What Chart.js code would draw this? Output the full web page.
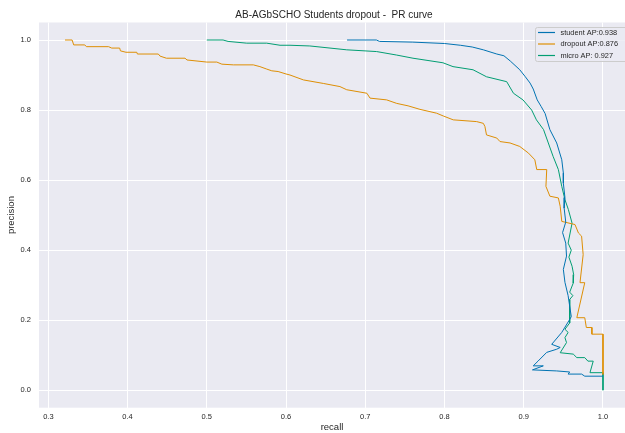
<!DOCTYPE html>
<html>
<head>
<meta charset="utf-8">
<script src="https://cdn.jsdelivr.net/npm/chart.js@4"></script>
<style>
  html, body { margin: 0; padding: 0; background: #ffffff; overflow: hidden; }
  #wrap { width: 625px; height: 433px; }
</style>
</head>
<body>
<div id="wrap"><canvas id="prChart" width="625" height="433"></canvas></div>
<script>
// values
const xTicks = [0.3, 0.4, 0.5, 0.6, 0.7, 0.8, 0.9, 1.0];
const yTicks = [0.0, 0.2, 0.4, 0.6, 0.8, 1.0];
const seriesLabels = ['student AP:0.938', 'dropout AP:0.876', 'micro AP: 0.927'];
const seriesColors = ['#0173b2', '#de8f05', '#029e73'];

const studentRecall = [0.677, 0.714, 0.718, 0.76, 0.80, 0.82, 0.835, 0.849, 0.866, 0.875, 0.883, 0.895, 0.902, 0.908, 0.912, 0.917, 0.922, 0.927, 0.933, 0.9416, 0.948, 0.950, 0.950, 0.952, 0.951, 0.953, 0.949, 0.953, 0.954, 0.950, 0.952, 0.956, 0.958, 0.960, 0.958, 0.948, 0.9353, 0.946, 0.9416, 0.929, 0.918, 0.912, 0.9247, 0.911, 0.9416, 0.958, 0.956, 0.973, 0.977, 1.0];
const studentPrecision = [1.0, 1.0, 0.996, 0.994, 0.99, 0.985, 0.98, 0.972, 0.96, 0.955, 0.94, 0.915, 0.895, 0.877, 0.86, 0.829, 0.81, 0.79, 0.744, 0.706, 0.658, 0.62, 0.591, 0.55, 0.52, 0.48, 0.45, 0.42, 0.383, 0.345, 0.308, 0.27, 0.24, 0.21, 0.202, 0.165, 0.131, 0.122, 0.117, 0.108, 0.083, 0.0695, 0.0695, 0.058, 0.055, 0.052, 0.046, 0.046, 0.04, 0.04];

const dropoutRecall = [0.321, 0.330, 0.332, 0.346, 0.348, 0.376, 0.380, 0.390, 0.391, 0.398, 0.4116, 0.4124, 0.4388, 0.441, 0.449, 0.4725, 0.475, 0.5, 0.5126, 0.519, 0.5335, 0.5587, 0.567, 0.5756, 0.582, 0.590, 0.6, 0.605, 0.622, 0.647, 0.668, 0.6766, 0.702, 0.706, 0.727, 0.7397, 0.754, 0.769, 0.790, 0.7985, 0.811, 0.8406, 0.849, 0.851, 0.853, 0.866, 0.87, 0.8827, 0.895, 0.906, 0.914, 0.9164, 0.929, 0.928, 0.933, 0.9437, 0.946, 0.948, 0.9647, 0.969, 0.973, 0.975, 0.971, 0.977, 0.967, 0.977, 0.979, 0.986, 0.986, 1.0, 1.0];
const dropoutPrecision = [1.0, 1.0, 0.986, 0.986, 0.981, 0.981, 0.977, 0.977, 0.969, 0.965, 0.965, 0.96, 0.96, 0.954, 0.948, 0.948, 0.943, 0.937, 0.937, 0.931, 0.929, 0.929, 0.924, 0.917, 0.912, 0.91, 0.903, 0.9, 0.886, 0.876, 0.867, 0.858, 0.848, 0.834, 0.829, 0.819, 0.812, 0.802, 0.791, 0.783, 0.772, 0.767, 0.762, 0.753, 0.729, 0.72, 0.71, 0.706, 0.696, 0.677, 0.658, 0.63, 0.63, 0.582, 0.554, 0.549, 0.525, 0.482, 0.473, 0.449, 0.44, 0.387, 0.307, 0.307, 0.207, 0.207, 0.179, 0.179, 0.16, 0.16, 0.045];

const microRecall = [0.5, 0.5205, 0.5268, 0.5504, 0.5756, 0.5924, 0.605, 0.630, 0.6766, 0.7144, 0.7397, 0.7602, 0.798, 0.8107, 0.836, 0.853, 0.8785, 0.887, 0.899, 0.91, 0.916, 0.925, 0.931, 0.937, 0.9437, 0.948, 0.952, 0.9563, 0.961, 0.956, 0.960, 0.957, 0.961, 0.963, 0.9625, 0.958, 0.962, 0.958, 0.958, 0.952, 0.956, 0.952, 0.954, 0.946, 0.9625, 0.967, 0.977, 0.981, 0.9877, 0.9836, 1.0, 1.0];
const microPrecision = [1.0, 1.0, 0.996, 0.991, 0.991, 0.985, 0.985, 0.983, 0.972, 0.967, 0.957, 0.948, 0.935, 0.924, 0.915, 0.895, 0.881, 0.848, 0.829, 0.80, 0.772, 0.744, 0.706, 0.668, 0.63, 0.582, 0.544, 0.516, 0.477, 0.42, 0.40, 0.38, 0.354, 0.33, 0.306, 0.28, 0.27, 0.259, 0.192, 0.174, 0.165, 0.15, 0.136, 0.107, 0.103, 0.093, 0.093, 0.083, 0.083, 0.05, 0.05, 0.0];

const toPoints = (xs, ys) => xs.map((x, i) => ({ x: x, y: ys[i] }));

const fontFamily = '"Liberation Sans", Arial, sans-serif';
const textColor = '#262626';

// title and legend drawn by hand so they sit where matplotlib put them
const decorPlugin = {
  id: 'decor',
  afterDatasetsDraw(chart) {
    const ctx = chart.ctx;
    ctx.save();
    // legend box
    const bx = 535.5, by = 27.5, bw = 100, bh = 34;
    ctx.beginPath();
    ctx.roundRect(bx, by, bw, bh, 2);
    ctx.fillStyle = 'rgba(234,234,242,0.8)';
    ctx.fill();
    ctx.strokeStyle = '#cccccc';
    ctx.lineWidth = 1;
    ctx.stroke();
    ctx.font = '7.4px ' + fontFamily;
    ctx.textBaseline = 'middle';
    ctx.textAlign = 'left';
    seriesLabels.forEach((label, i) => {
      const yy = 32.5 + i * 11.5;
      ctx.beginPath();
      ctx.moveTo(538, yy);
      ctx.lineTo(555, yy);
      ctx.strokeStyle = seriesColors[i];
      ctx.lineWidth = 1.2;
      ctx.stroke();
      ctx.fillStyle = textColor;
      ctx.fillText(label, 560.5, yy);
    });
    // title, centred over the full axes (which runs past the right edge)
    ctx.font = '10px ' + fontFamily;
    ctx.textAlign = 'center';
    ctx.fillStyle = textColor;
    ctx.fillText('AB-AGbSCHO Students dropout -  PR curve', 334, 15);
    ctx.restore();
  }
};

const bgPlugin = {
  id: 'plotBg',
  beforeDraw(chart) {
    const { ctx, chartArea } = chart;
    ctx.save();
    ctx.fillStyle = '#eaeaf2';
    ctx.fillRect(chartArea.left, chartArea.top, chartArea.right - chartArea.left, chartArea.bottom - chartArea.top);
    ctx.restore();
  }
};

const makeSet = (i, xs, ys) => ({
  label: seriesLabels[i],
  data: toPoints(xs, ys),
  borderColor: seriesColors[i],
  backgroundColor: seriesColors[i],
  borderWidth: 1,
  pointRadius: 0,
  tension: 0,
  fill: false
});

new Chart(document.getElementById('prChart'), {
  type: 'line',
  data: {
    datasets: [
      makeSet(0, studentRecall, studentPrecision),
      makeSet(1, dropoutRecall, dropoutPrecision),
      makeSet(2, microRecall, microPrecision)
    ]
  },
  options: {
    responsive: false,
    animation: false,
    layout: { padding: { top: 22.5, right: 0, bottom: 0, left: 0 } },
    plugins: {
      legend: { display: false },
      title: { display: false },
      tooltip: { enabled: false }
    },
    scales: {
      x: {
        type: 'linear',
        min: 0.2882,
        max: 1.0278,
        afterBuildTicks: scale => { scale.ticks = xTicks.map(v => ({ value: v })); },
        afterFit: scale => { scale.height = 25.3; },
        grid: { color: '#ffffff', lineWidth: 1, drawTicks: false },
        border: { display: false },
        ticks: {
          color: textColor,
          font: { family: fontFamily, size: 7.5 },
          padding: 5,
          maxRotation: 0,
          callback: v => v.toFixed(1)
        },
        title: {
          display: true,
          text: 'recall',
          color: textColor,
          font: { family: fontFamily, size: 9.5 },
          padding: { top: 0, bottom: 0 }
        }
      },
      y: {
        type: 'linear',
        min: -0.05,
        max: 1.05,
        afterBuildTicks: scale => { scale.ticks = yTicks.map(v => ({ value: v })); },
        afterFit: scale => { scale.width = 39; },
        grid: { color: '#ffffff', lineWidth: 1, drawTicks: false },
        border: { display: false },
        ticks: {
          color: textColor,
          font: { family: fontFamily, size: 7.5 },
          padding: 8,
          callback: v => v.toFixed(1)
        },
        title: {
          display: true,
          text: 'precision',
          color: textColor,
          font: { family: fontFamily, size: 9.5 },
          padding: { top: 6, bottom: 0 }
        }
      }
    }
  },
  plugins: [bgPlugin, decorPlugin]
});
</script>
</body>
</html>
